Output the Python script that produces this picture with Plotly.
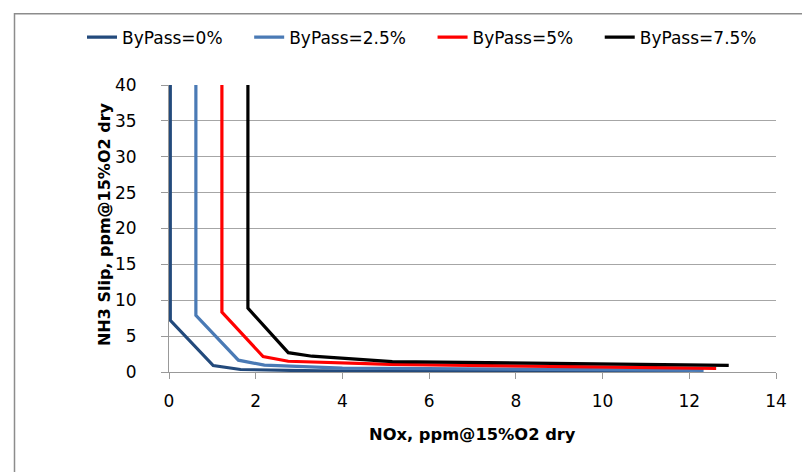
import plotly.graph_objects as go

# Data
series_names = ["ByPass=0%", "ByPass=2.5%", "ByPass=5%", "ByPass=7.5%"]
nox_0 = [0.03, 0.03, 1.02, 1.65, 3.5, 6.0, 12.02]
nh3_0 = [40, 7.2, 0.9, 0.35, 0.15, 0.08, 0.03]
nox_25 = [0.62, 0.62, 1.6, 2.2, 4.0, 7.0, 12.33]
nh3_25 = [40, 7.9, 1.65, 0.95, 0.55, 0.4, 0.22]
nox_5 = [1.22, 1.22, 2.17, 2.75, 5.1, 12.62]
nh3_5 = [40, 8.35, 2.15, 1.5, 1.05, 0.5]
nox_75 = [1.82, 1.82, 2.75, 3.3, 5.15, 12.91]
nh3_75 = [40, 8.9, 2.7, 2.2, 1.45, 0.92]
colors = ["#234a7c", "#4a7ab5", "#ff0000", "#000000"]

x_ticks = [0, 2, 4, 6, 8, 10, 12, 14]
y_ticks = [0, 5, 10, 15, 20, 25, 30, 35, 40]
x_title = "NOx, ppm@15%O2 dry"
y_title = "NH3 Slip, ppm@15%O2 dry"

FONT = "DejaVu Sans"
PAD = "\u00a0" * 4  # spacing between legend entries

fig = go.Figure()
for name, xs, ys, c in zip(series_names, [nox_0, nox_25, nox_5, nox_75],
                           [nh3_0, nh3_25, nh3_5, nh3_75], colors):
    fig.add_trace(go.Scatter(x=xs, y=ys, mode="lines", name=name + PAD,
                             line=dict(color=c, width=3.2)))

# page has an 8px body margin, so figure coordinates = page coordinates - 8
W, H = 810, 472
L, R, T, B = 161, 42, 73, 108
pw, ph = W - L - R, H - T - B

def px_x(p):
    return (p - L) / pw

def px_y(p):
    return (T + ph - p) / ph

fig.update_layout(
    width=W, height=H,
    margin=dict(l=L, r=R, t=T, b=B),
    paper_bgcolor="white", plot_bgcolor="white",
    font=dict(family=FONT, color="#000000"),
    showlegend=True,
    legend=dict(orientation="h", x=px_x(74), y=px_y(25),
                xanchor="left", yanchor="middle",
                font=dict(size=17, family=FONT), itemwidth=30,
                bgcolor="rgba(0,0,0,0)"),
    xaxis=dict(range=[0, 14], tickvals=x_ticks, ticktext=[str(v) for v in x_ticks],
               showgrid=False, zeroline=False, showline=True, linecolor="#999999",
               linewidth=1, ticks="outside", ticklen=6, tickcolor="#999999",
               ticklabelstandoff=8,
               tickfont=dict(size=17, family=FONT)),
    yaxis=dict(range=[0, 40], tickvals=y_ticks, ticktext=[str(v) for v in y_ticks],
               showgrid=True, gridcolor="#a6a6a6", gridwidth=1,
               zeroline=False, showline=True, linecolor="#999999", linewidth=1,
               ticks="outside", ticklen=7, tickcolor="#999999",
               ticklabelstandoff=21,
               tickfont=dict(size=17, family=FONT)),
    annotations=[
        dict(text="<b>" + x_title + "</b>", xref="paper", yref="paper",
             x=px_x(464), y=px_y(427), xanchor="center", yanchor="middle",
             showarrow=False, font=dict(size=16.3, family=FONT)),
        dict(text="<b>" + y_title + "</b>", xref="paper", yref="paper",
             x=px_x(96), y=px_y(214), xanchor="center", yanchor="middle",
             textangle=-90, showarrow=False, font=dict(size=16, family=FONT)),
    ],
    shapes=[dict(type="rect", xref="paper", yref="paper",
                 x0=px_x(6.5), x1=px_x(W + 5),
                 y0=px_y(H + 5), y1=px_y(0.8),
                 line=dict(color="#8c8c8c", width=1.5), fillcolor="rgba(0,0,0,0)", layer="below")],
)

fig.write_html("out.html")
